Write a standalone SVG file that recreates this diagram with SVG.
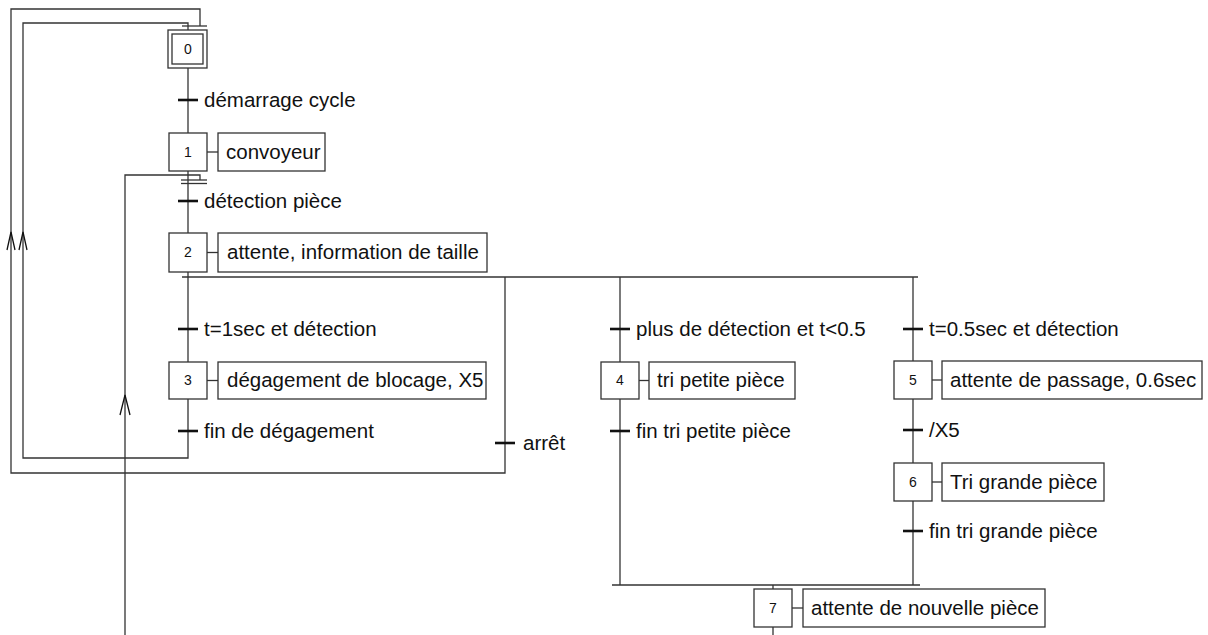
<svg xmlns="http://www.w3.org/2000/svg" width="1208" height="635" viewBox="0 0 1208 635">
<style>
.ln{fill:none;stroke:#333;stroke-width:1.3}
.box{fill:#fff;stroke:#333;stroke-width:1.3}
.tk{stroke:#111;stroke-width:2.6}
.num{font-family:"Liberation Sans",Arial,sans-serif;font-size:14px;fill:#111;text-anchor:middle}
.lbl{font-family:"Liberation Sans",Arial,sans-serif;font-size:20.5px;fill:#111}
.arr{fill:none;stroke:#111;stroke-width:1.3}
</style>
<rect width="1208" height="635" fill="#fff"/>
<g id="connectors">
  <polyline class="ln" points="505,277 505,473 11,473 11,9 200,9 200,26"/>
  <polyline class="ln" points="188,399 188,458 23,458 23,23 188,23 188,30"/>
  <line class="ln" x1="182" y1="26" x2="207" y2="26"/>
  <line class="ln" x1="188" y1="68" x2="188" y2="133"/>
  <line class="ln" x1="188" y1="171" x2="188" y2="233"/>
  <line class="ln" x1="188" y1="272" x2="188" y2="362"/>
  <polyline class="ln" points="125,635 125,175 200,175 200,180"/>
  <line class="ln" x1="181" y1="180" x2="207" y2="180"/>
  <line class="ln" x1="181" y1="183.5" x2="207" y2="183.5"/>
  <line class="ln" x1="182" y1="277" x2="918" y2="277"/>
  <line class="ln" x1="620" y1="277" x2="620" y2="585"/>
  <line class="ln" x1="913" y1="277" x2="913" y2="585"/>
  <line class="ln" x1="612" y1="585" x2="920" y2="585"/>
  <line class="ln" x1="773" y1="585" x2="773" y2="635"/>
  <line class="ln" x1="207" y1="152" x2="218" y2="152"/>
  <line class="ln" x1="207" y1="252.5" x2="218" y2="252.5"/>
  <line class="ln" x1="207" y1="380.5" x2="218" y2="380.5"/>
  <line class="ln" x1="639" y1="380.5" x2="649" y2="380.5"/>
  <line class="ln" x1="932" y1="380" x2="942" y2="380"/>
  <line class="ln" x1="932" y1="482" x2="942" y2="482"/>
  <line class="ln" x1="792" y1="608" x2="803" y2="608"/>
  <polyline class="arr" points="7,250 11,232 15,250"/>
  <polyline class="arr" points="19,250 23,232 27,250"/>
  <polyline class="arr" points="120,415 125,395 130,415"/>
  <line class="tk" x1="178" y1="100" x2="198" y2="100"/>
  <line class="tk" x1="178" y1="201" x2="198" y2="201"/>
  <line class="tk" x1="178" y1="329" x2="198" y2="329"/>
  <line class="tk" x1="178" y1="431" x2="198" y2="431"/>
  <line class="tk" x1="495" y1="443" x2="515" y2="443"/>
  <line class="tk" x1="610" y1="329" x2="630" y2="329"/>
  <line class="tk" x1="610" y1="431" x2="630" y2="431"/>
  <line class="tk" x1="903" y1="329" x2="923" y2="329"/>
  <line class="tk" x1="903" y1="430" x2="923" y2="430"/>
  <line class="tk" x1="903" y1="531" x2="923" y2="531"/>
  <text class="lbl" x="204" y="107">démarrage cycle</text>
  <text class="lbl" x="204" y="208">détection pièce</text>
  <text class="lbl" x="204" y="336">t=1sec et détection</text>
  <text class="lbl" x="204" y="438">fin de dégagement</text>
  <text class="lbl" x="523" y="450">arrêt</text>
  <text class="lbl" x="636" y="336">plus de détection et t&lt;0.5</text>
  <text class="lbl" x="636" y="438">fin tri petite pièce</text>
  <text class="lbl" x="929" y="336">t=0.5sec et détection</text>
  <text class="lbl" x="929" y="437">/X5</text>
  <text class="lbl" x="929" y="538">fin tri grande pièce</text>
</g>
<g id="step0">
  <rect class="box" x="168" y="30" width="39" height="38"/>
  <rect class="box" x="172" y="34" width="31" height="30"/>
  <text class="num" x="188" y="54">0</text>
</g>
<g id="step1">
  <rect class="box" x="169" y="133" width="38" height="38"/>
  <text class="num" x="188" y="157">1</text>
  <rect class="box" x="218" y="133" width="107" height="38"/>
  <text class="lbl" x="226" y="159">convoyeur</text>
</g>
<g id="step2">
  <rect class="box" x="169" y="233" width="38" height="39"/>
  <text class="num" x="188" y="257">2</text>
  <rect class="box" x="218" y="233" width="269" height="39"/>
  <text class="lbl" x="227" y="259">attente, information de taille</text>
</g>
<g id="step3">
  <rect class="box" x="169" y="362" width="38" height="37"/>
  <text class="num" x="188" y="385">3</text>
  <rect class="box" x="218" y="362" width="268" height="37"/>
  <text class="lbl" x="227" y="387">dégagement de blocage, X5</text>
</g>
<g id="step4">
  <rect class="box" x="601" y="362" width="38" height="37"/>
  <text class="num" x="620" y="385">4</text>
  <rect class="box" x="649" y="362" width="146" height="37"/>
  <text class="lbl" x="657" y="387">tri petite pièce</text>
</g>
<g id="step5">
  <rect class="box" x="894" y="361" width="38" height="38"/>
  <text class="num" x="913" y="385">5</text>
  <rect class="box" x="942" y="361" width="260" height="38"/>
  <text class="lbl" x="950" y="387">attente de passage, 0.6sec</text>
</g>
<g id="step6">
  <rect class="box" x="894" y="463" width="38" height="38"/>
  <text class="num" x="913" y="487">6</text>
  <rect class="box" x="942" y="463" width="162" height="38"/>
  <text class="lbl" x="950" y="489">Tri grande pièce</text>
</g>
<g id="step7">
  <rect class="box" x="754" y="589" width="38" height="38"/>
  <text class="num" x="773" y="613">7</text>
  <rect class="box" x="803" y="589" width="242" height="38"/>
  <text class="lbl" x="811" y="615">attente de nouvelle pièce</text>
</g>
</svg>
